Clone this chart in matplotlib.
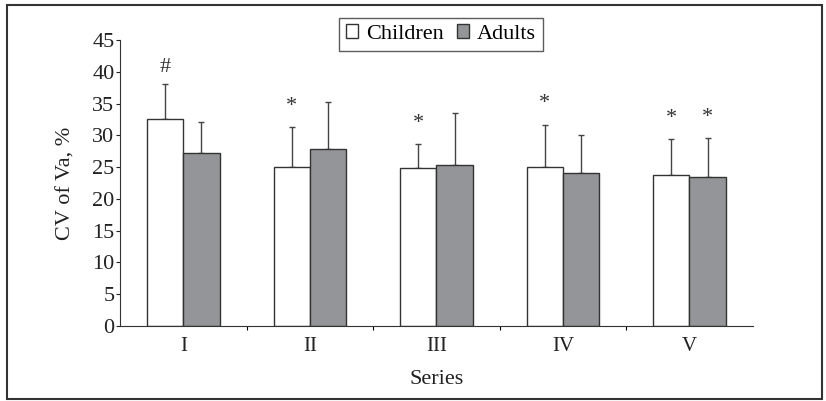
import matplotlib.pyplot as plt
from matplotlib.patches import Rectangle
import numpy as np

plt.rcParams['font.family'] = ['Liberation Serif', 'DejaVu Serif']

series = ['I', 'II', 'III', 'IV', 'V']
children = [32.6, 25.0, 24.8, 25.0, 23.8]
children_err = [5.5, 6.3, 3.9, 6.7, 5.6]
adults = [27.3, 27.9, 25.4, 24.1, 23.5]
adults_err = [4.8, 7.4, 8.1, 6.0, 6.1]
children_marks = ['#', '*', '*', '*', '*']
adults_marks = ['', '', '', '', '*']

fig = plt.figure(figsize=(8.26, 4.01), dpi=100)
ax = fig.add_axes([0.1453, 0.187, 0.766, 0.713])

x = np.arange(len(series))
w = 0.287
edge = '#333333'
ax.bar(x - w / 2, children, w, color='white', edgecolor=edge, linewidth=1.0,
       label='Children', zorder=2)
ax.bar(x + w / 2, adults, w, color='#939598', edgecolor=edge, linewidth=1.0,
       label='Adults', zorder=2)
ax.errorbar(x - w / 2, children, yerr=[np.zeros(5), children_err], fmt='none',
            ecolor='#444444', elinewidth=1.0, capsize=2.5, capthick=1.0, zorder=1)
ax.errorbar(x + w / 2, adults, yerr=[np.zeros(5), adults_err], fmt='none',
            ecolor='#444444', elinewidth=1.0, capsize=2.5, capthick=1.0, zorder=1)

for i in range(len(series)):
    top = children[i] + children_err[i]
    if children_marks[i]:
        off = 5 if children_marks[i] == '#' else 8
        ax.annotate(children_marks[i], (x[i] - w / 2, top), xytext=(0, off),
                    textcoords='offset points', ha='center', va='bottom',
                    fontsize=16, color='#333333')
    top = adults[i] + adults_err[i]
    if adults_marks[i]:
        ax.annotate(adults_marks[i], (x[i] + w / 2, top), xytext=(0, 8),
                    textcoords='offset points', ha='center', va='bottom',
                    fontsize=16, color='#333333')

ax.set_xlim(-0.5, len(series) - 0.5)
ax.set_ylim(0, 45)
ax.set_yticks(range(0, 46, 5))
ax.set_xticks(x)
ax.set_xticklabels(series)
ax.set_xticks(np.arange(0.5, len(series) - 0.5, 1), minor=True)
ax.tick_params(axis='y', direction='out', length=3, width=0.8, labelsize=16,
               colors='#222222', pad=1)
ax.tick_params(axis='x', which='major', length=0, labelsize=15, colors='#222222', pad=8)
ax.tick_params(axis='x', which='minor', direction='out', length=3, width=0.8)
ax.spines['top'].set_visible(False)
ax.spines['right'].set_visible(False)
ax.spines['left'].set_color('#333333')
ax.spines['bottom'].set_color('#333333')
ax.set_xlabel('Series', fontsize=16, color='#222222', labelpad=10)
ax.set_ylabel('CV of Va, %', fontsize=16, color='#222222', labelpad=12)

leg = fig.legend(loc='center', bbox_to_anchor=(0.534, 0.915), ncol=2, fontsize=16,
                 frameon=True, fancybox=False, handlelength=0.55, handleheight=0.55,
                 handletextpad=0.35, columnspacing=0.6, borderpad=0.3)
leg.get_frame().set_edgecolor('#333333')
leg.get_frame().set_linewidth(1.0)

fig.patches.append(Rectangle((7 / 826, 2 / 401), 815 / 826, 394 / 401,
                             transform=fig.transFigure, fill=False,
                             edgecolor='#333333', linewidth=1.5))

fig.savefig('out.png', dpi=100)
